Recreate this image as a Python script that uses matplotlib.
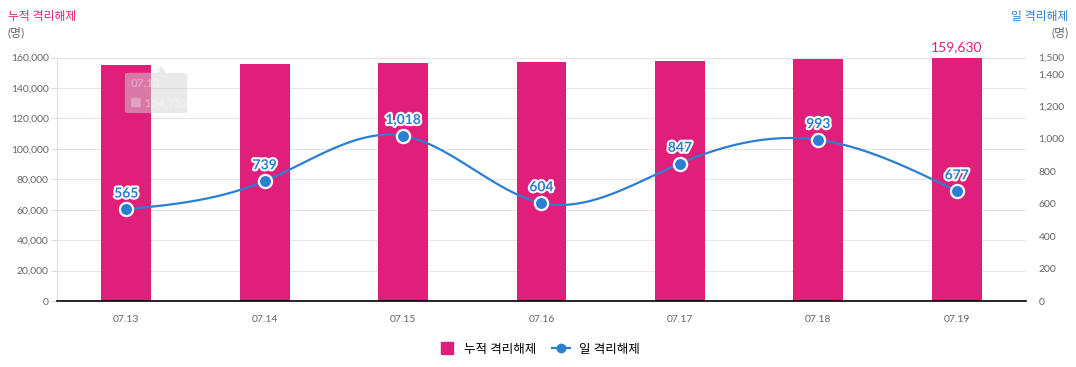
import numpy as np
import matplotlib.pyplot as plt
import matplotlib.patheffects as pe
from matplotlib.lines import Line2D
from matplotlib.patches import FancyBboxPatch, Polygon

dates = ["07.13", "07.14", "07.15", "07.16", "07.17", "07.18", "07.19"]
cumulative = [154752, 155491, 156509, 157113, 157960, 158953, 159630]
daily = [565, 739, 1018, 604, 847, 993, 677]

PINK = "#e01f7b"
BLUE = "#2a7fd2"
GREY = "#666666"
KR = ["Lato", "Noto Sans CJK KR", "DejaVu Sans"]

plt.rcParams["font.family"] = KR


def natural_spline(x, y, n=300):
    x = np.asarray(x, float)
    y = np.asarray(y, float)
    h = np.diff(x)
    k = len(x)
    A = np.zeros((k, k))
    b = np.zeros(k)
    A[0, 0] = A[-1, -1] = 1
    for i in range(1, k - 1):
        A[i, i - 1] = h[i - 1]
        A[i, i] = 2 * (h[i - 1] + h[i])
        A[i, i + 1] = h[i]
        b[i] = 6 * ((y[i + 1] - y[i]) / h[i] - (y[i] - y[i - 1]) / h[i - 1])
    M = np.linalg.solve(A, b)
    xs = np.linspace(x[0], x[-1], n)
    idx = np.clip(np.searchsorted(x, xs) - 1, 0, k - 2)
    x0, x1 = x[idx], x[idx + 1]
    hh = x1 - x0
    t0, t1 = x1 - xs, xs - x0
    ys = (M[idx] * t0 ** 3 + M[idx + 1] * t1 ** 3) / (6 * hh) \
        + (y[idx] / hh - M[idx] * hh / 6) * t0 \
        + (y[idx + 1] / hh - M[idx + 1] * hh / 6) * t1
    return xs, ys


fig = plt.figure(figsize=(10.76, 3.67), dpi=100)
ax = fig.add_axes([0.053, 0.1798, 0.9005, 0.6635])
ax2 = ax.twinx()

pos = np.arange(len(dates))
ax.bar(pos, cumulative, width=0.36, color=PINK, zorder=2)
ax.set_xlim(-0.5, len(dates) - 0.5)
ax.set_ylim(0, 160000)
ax.set_yticks(range(0, 160001, 20000))
ax.set_yticklabels([f"{v:,}" for v in range(0, 160001, 20000)], fontsize=7.5, color=GREY)
ax.set_xticks(pos)
ax.set_xticklabels(dates, fontsize=7.5, color=GREY)
ax.tick_params(axis="x", length=0, pad=10)
ax.tick_params(axis="y", length=4, color="#dddddd", pad=2)
ax.grid(axis="y", color="#e6e6e6", linewidth=0.8, zorder=0)
ax.set_axisbelow(True)
for s in ["top", "right"]:
    ax.spines[s].set_visible(False)
ax.spines["left"].set_color("#dddddd")
ax.spines["bottom"].set_color("black")
ax.spines["bottom"].set_linewidth(1.2)
ax.spines["bottom"].set_zorder(5)

ax.text(pos[-1], cumulative[-1] + 3500, f"{cumulative[-1]:,}", color=PINK,
        fontsize=10, ha="center", va="bottom")

# hover tooltip left over on the first bar
tip = FancyBboxPatch((-0.01, 123500), 0.45, 26500,
                     boxstyle="round,pad=0,rounding_size=0.04",
                     mutation_aspect=30000, facecolor="#d4d4d4", alpha=0.5,
                     edgecolor="none", zorder=4)
ax.add_patch(tip)
ax.add_patch(Polygon([[0.23, 150000], [0.25, 154500], [0.29, 150000]],
                     closed=True, facecolor="#d4d4d4", alpha=0.5,
                     edgecolor="none", zorder=4))
ax.text(0.03, 142800, "07.13", color="white", alpha=0.3, fontsize=8.5,
        fontweight="bold", va="center", zorder=5)
ax.text(0.03, 130500, "\u25a0 154,752", color="white", alpha=0.3,
        fontsize=8.5, fontweight="bold", va="center", zorder=5)

xs, ys = natural_spline(pos, daily)
ax2.plot(xs, ys, color=BLUE, linewidth=1.6, zorder=3)
ax2.plot(pos, daily, linestyle="none", marker="o", markersize=9.5,
         markerfacecolor=BLUE, markeredgecolor="white", markeredgewidth=1.6,
         zorder=4)
for x, v in zip(pos, daily):
    ax2.annotate(f"{v:,}", (x, v), xytext=(0, 7), textcoords="offset points",
                 ha="center", va="bottom", color=BLUE, fontsize=10,
                 fontweight="bold",
                 path_effects=[pe.withStroke(linewidth=3, foreground="white")])
ax2.set_ylim(0, 1500)
r_ticks = [0, 200, 400, 600, 800, 1000, 1200, 1400, 1500]
ax2.set_yticks(r_ticks)
ax2.set_yticklabels([f"{v:,}" for v in r_ticks], fontsize=7.5, color=GREY)
ax2.tick_params(axis="y", length=0, pad=9)
for s in ax2.spines.values():
    s.set_visible(False)

fig.text(0.007, 0.955, "누적 격리해제", color=PINK, fontsize=8.5, va="center")
fig.text(0.007, 0.912, "(명)", color=GREY, fontsize=8.5, va="center")
fig.text(0.993, 0.955, "일 격리해제", color=BLUE, fontsize=8.5, va="center", ha="right")
fig.text(0.993, 0.912, "(명)", color=GREY, fontsize=8.5, va="center", ha="right")

handles = [
    Line2D([], [], linestyle="none", marker="s", markersize=9,
           markerfacecolor=PINK, markeredgecolor=PINK),
    Line2D([], [], color=BLUE, linestyle="--", linewidth=1.6, marker="o",
           markersize=6, markerfacecolor=BLUE, markeredgecolor=BLUE),
]
fig.legend(handles, ["누적 격리해제", "일 격리해제"], loc="center",
           bbox_to_anchor=(0.5, 0.05), ncol=2, frameon=False, fontsize=9,
           handlelength=1.6, columnspacing=1.2, handletextpad=0.6)

fig.savefig("out.png", dpi=100)
